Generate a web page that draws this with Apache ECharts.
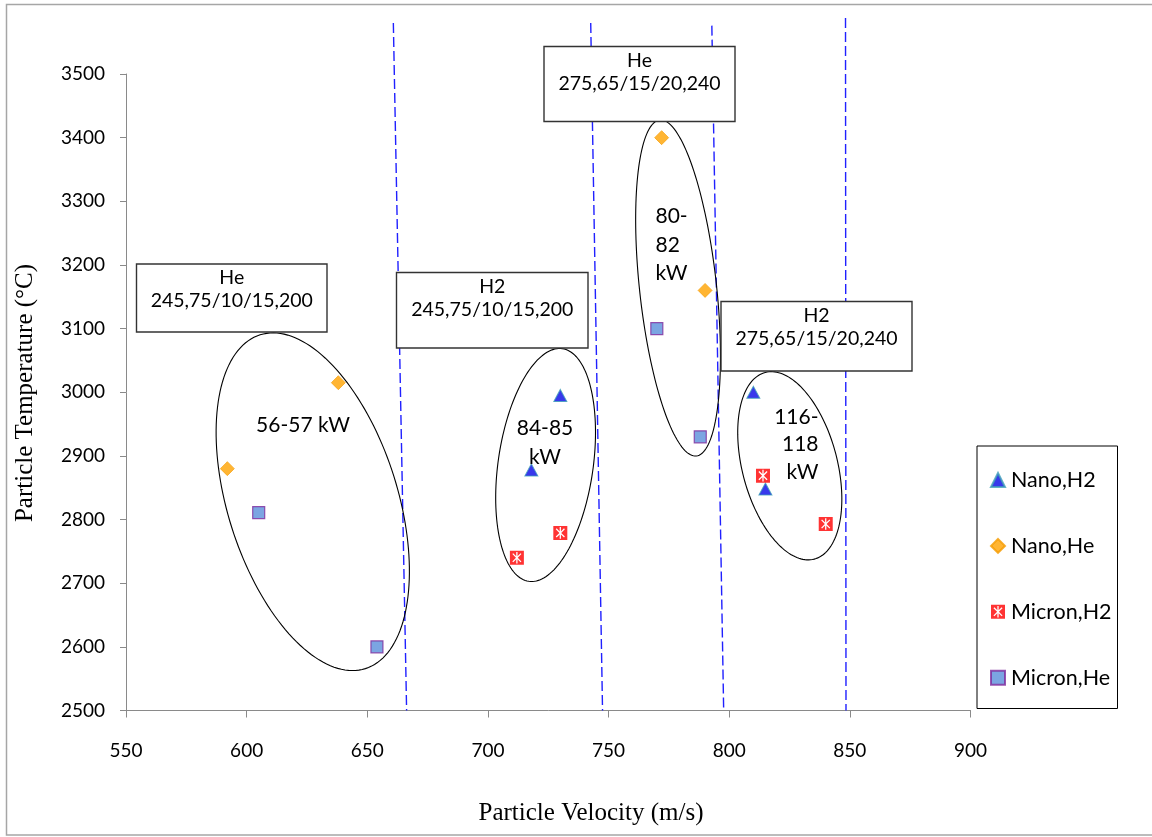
<!DOCTYPE html>
<html>
<head>
<meta charset="utf-8">
<script src="https://cdn.jsdelivr.net/npm/echarts@6/dist/echarts.min.js"></script>
<style>
  html, body { margin: 0; padding: 0; background: #fff; }
  #chart { width: 1152px; height: 837px; }
</style>
</head>
<body>
<div id="chart"></div>
<script>
// Particle velocity (m/s) / temperature (°C) pairs for each powder and plasma gas
const nanoH2   = [[730, 2995], [718, 2878], [810, 3000], [815, 2848]];
const nanoHe   = [[592, 2880], [638, 3015], [772, 3400], [790, 3160]];
const micronH2 = [[712, 2740], [730, 2779], [814, 2869], [840, 2793]];
const micronHe = [[605, 2811], [654, 2600], [770, 3100], [788, 2930]];

const seriesNames = ['Nano,H2', 'Nano,He', 'Micron,H2', 'Micron,He'];

// Axis ranges and tick steps
const velocityAxis = { min: 550, max: 900, step: 50 };
const temperatureAxis = { min: 2500, max: 3500, step: 100 };

// Dashed separators between power regimes (top point, bottom point)
const dividerLines = [
  [[660.8, 3580], [666.3, 2500]],
  [[742.6, 3580], [747.5, 2500]],
  [[792.8, 3576], [797.7, 2500]],
  [[848.2, 3588], [848.4, 2500]]
];

// Power ranges for each group
const powerLabels = ['56-57 kW', '84-85\nkW', '80-\n82\nkW', '116-\n118\nkW'];
// Spray conditions (gas, parameters)
const conditionLabels = [
  'He\n245,75/10/15,200',
  'H2\n245,75/10/15,200',
  'He\n275,65/15/20,240',
  'H2\n275,65/15/20,240'
];

const FONT = 'Lato, "Noto Sans", sans-serif';

// Red square marker with a white asterisk cut out of it
function asteriskSquarePath() {
  const c = 10, L = 8.3, w = 0.9;
  const arms = [45, 90, 135, 225, 270, 315].map(a => a * Math.PI / 180);
  const pts = [];
  for (let k = 0; k < arms.length; k++) {
    const a = arms[k];
    const next = k === arms.length - 1 ? arms[0] + 2 * Math.PI : arms[k + 1];
    const dx = Math.cos(a), dy = Math.sin(a);
    const nx = -dy, ny = dx;
    pts.push([c + L * dx - w * nx, c + L * dy - w * ny]);
    pts.push([c + L * dx + w * nx, c + L * dy + w * ny]);
    const half = (next - a) / 2;
    const bis = a + half;
    const r = w / Math.sin(half);
    pts.push([c + r * Math.cos(bis), c + r * Math.sin(bis)]);
  }
  pts.reverse();
  const hole = 'M' + pts.map(p => p[0].toFixed(3) + ',' + p[1].toFixed(3)).join('L') + 'Z';
  return 'path://M0,0L20,0L20,20L0,20Z' + hole;
}

const chart = echarts.init(document.getElementById('chart'), null, { renderer: 'canvas' });

const axisGray = '#8a8a8a';

const dividerSeries = dividerLines.map((seg, i) => ({
  name: 'divider' + i,
  type: 'line',
  data: seg,
  symbol: 'none',
  clip: false,
  silent: true,
  z: 1,
  lineStyle: { color: '#2020ff', width: 1.4, type: [10, 4] }
}));

chart.setOption({
  animation: false,
  backgroundColor: '#fff',
  grid: { left: 126, right: 181.5, top: 74, bottom: 126.5 },
  xAxis: {
    type: 'value',
    min: velocityAxis.min, max: velocityAxis.max, interval: velocityAxis.step,
    splitLine: { show: false },
    axisLine: { onZero: false, lineStyle: { color: axisGray, width: 1 } },
    axisTick: { show: true, inside: false, length: 7, lineStyle: { color: axisGray } },
    axisLabel: { color: '#000', fontFamily: FONT, fontSize: 19, margin: 31, formatter: v => String(v) }
  },
  yAxis: {
    type: 'value',
    min: temperatureAxis.min, max: temperatureAxis.max, interval: temperatureAxis.step,
    splitLine: { show: false },
    axisLine: { show: true, onZero: false, lineStyle: { color: axisGray, width: 1 } },
    axisTick: { show: true, inside: false, length: 6, lineStyle: { color: axisGray } },
    axisLabel: { color: '#000', fontFamily: FONT, fontSize: 19, margin: 21, formatter: v => String(v) }
  },
  legend: {
    data: seriesNames,
    orient: 'vertical',
    left: 977, top: 446,
    padding: [23, 10, 22, 13],
    itemWidth: 14, itemHeight: 14,
    itemGap: 43.9,
    borderWidth: 0,
    textStyle: { color: '#000', fontFamily: FONT, fontSize: 21.5, lineHeight: 20, padding: [0, 0, 0, 1] },
    selectedMode: false
  },
  series: [
    ...dividerSeries,
    {
      name: seriesNames[0], type: 'scatter', data: nanoH2, z: 5,
      symbol: 'triangle', symbolSize: [13, 12],
      itemStyle: { color: '#0606e6', borderColor: '#3f9fb8', borderWidth: 1 }
    },
    {
      name: seriesNames[1], type: 'scatter', data: nanoHe, z: 5,
      symbol: 'diamond', symbolSize: 14,
      itemStyle: { color: '#ffa200', borderColor: '#f59b00', borderWidth: 0.8 }
    },
    {
      name: seriesNames[2], type: 'scatter', data: micronH2, z: 5,
      symbol: asteriskSquarePath(), symbolSize: 14,
      itemStyle: { color: '#ff0000' }
    },
    {
      name: seriesNames[3], type: 'scatter', data: micronHe, z: 5,
      symbol: 'rect', symbolSize: 12,
      itemStyle: { color: '#5a8edb', borderColor: '#7e2a9c', borderWidth: 1.2 }
    }
  ]
});

// Outlines around each power regime: centre in data units, semi-axes in px, tilt in degrees
const groupOutlines = [
  { center: [627.4, 2828], a: 175, b: 85, tilt: 72.5 },
  { center: [723.9, 2885.7], a: 117.5, b: 47.5, tilt: -81.8 },
  { center: [778.8, 3163.8], a: 169, b: 38.5, tilt: 83.8 },
  { center: [825.1, 2884.5], a: 96.5, b: 47.5, tilt: 75.3 }
];

function ellipsePoints(o) {
  const c = chart.convertToPixel({ gridIndex: 0 }, o.center);
  const th = o.tilt * Math.PI / 180;
  const pts = [];
  for (let i = 0; i < 160; i++) {
    const t = i / 160 * 2 * Math.PI;
    pts.push([
      c[0] + o.a * Math.cos(th) * Math.cos(t) - o.b * Math.sin(th) * Math.sin(t),
      c[1] + o.a * Math.sin(th) * Math.cos(t) + o.b * Math.cos(th) * Math.sin(t)
    ]);
  }
  return pts;
}

const boxes = [
  { x: 136.5, y: 264, w: 190.5, h: 68 },
  { x: 396.5, y: 272.5, w: 191.5, h: 75.5 },
  { x: 544, y: 46.5, w: 191, h: 75 },
  { x: 721, y: 301.5, w: 191, h: 69.5 }
];

const graphics = [];

// Outer frame
graphics.push({
  type: 'rect', z: 0, silent: true,
  shape: { x: 6.5, y: 4.5, width: 1160, height: 830.5 },
  style: { fill: 'none', stroke: '#a6a6a6', lineWidth: 1.5 }
});

// Legend frame
graphics.push({
  type: 'rect', z: 10, silent: true,
  shape: { x: 977, y: 446, width: 140.5, height: 262.5 },
  style: { fill: 'none', stroke: '#000', lineWidth: 1 }
});

groupOutlines.forEach(o => {
  graphics.push({
    type: 'polygon', z: 3, silent: true,
    shape: { points: ellipsePoints(o) },
    style: { fill: 'none', stroke: '#000', lineWidth: 1.1 }
  });
});

boxes.forEach((b, i) => {
  graphics.push({
    type: 'rect', z: 20, silent: true,
    shape: { x: b.x, y: b.y, width: b.w, height: b.h },
    style: { fill: '#fff', stroke: '#333', lineWidth: 1.4 }
  });
  graphics.push({
    type: 'text', z: 21, silent: true,
    x: b.x + b.w / 2, y: b.y + 2.5,
    style: {
      text: conditionLabels[i], fill: '#000', font: '19.5px ' + FONT,
      lineHeight: 23, align: 'center', verticalAlign: 'top'
    }
  });
});

const powerPlacement = [
  { x: 303, y: 413, align: 'center', lh: 24 },
  { x: 545, y: 413.5, align: 'center', lh: 29 },
  { x: 655.5, y: 202.5, align: 'left', lh: 28.3 },
  { x: 818.5, y: 403, align: 'right', lh: 27.5 }
];
powerLabels.forEach((t, i) => {
  const p = powerPlacement[i];
  graphics.push({
    type: 'text', z: 22, silent: true,
    x: p.x, y: p.y,
    style: {
      text: t, fill: '#000', font: '21px ' + FONT,
      lineHeight: p.lh, align: p.align, verticalAlign: 'top'
    }
  });
});

// Axis titles
graphics.push({
  type: 'text', z: 10, silent: true,
  x: 591, y: 813,
  style: {
    text: 'Particle Velocity (m/s)', fill: '#000',
    font: '25px "Liberation Serif", "Times New Roman", serif',
    align: 'center', verticalAlign: 'middle'
  }
});
graphics.push({
  type: 'text', z: 10, silent: true,
  x: 25, y: 393, rotation: Math.PI / 2,
  style: {
    text: 'Particle Temperature (\u00B0C)', fill: '#000',
    font: '25px "Liberation Serif", "Times New Roman", serif',
    align: 'center', verticalAlign: 'middle'
  }
});

chart.setOption({ graphic: graphics });
</script>
</body>
</html>
